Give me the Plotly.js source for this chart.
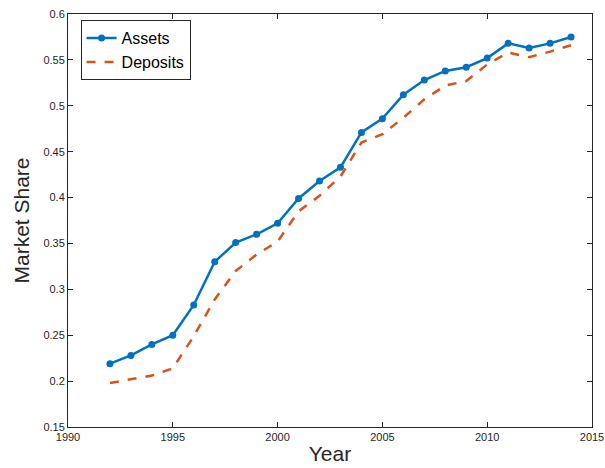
<!DOCTYPE html>
<html>
<head>
<meta charset="utf-8">
<script src="https://cdn.plot.ly/plotly-3.0.1.min.js"></script>
<style>html,body{margin:0;padding:0;background:#fff;}#chart{width:605px;height:468px;}</style>
</head>
<body>
<div id="chart"></div>
<script>
const years = [1992,1993,1994,1995,1996,1997,1998,1999,2000,2001,2002,2003,2004,2005,2006,2007,2008,2009,2010,2011,2012,2013,2014];
const assets = [0.219,0.228,0.240,0.250,0.283,0.330,0.351,0.360,0.372,0.399,0.418,0.433,0.471,0.486,0.512,0.528,0.538,0.542,0.552,0.568,0.563,0.568,0.575];
const deposits = [0.198,0.202,0.206,0.214,0.249,0.289,0.320,0.338,0.352,0.385,0.402,0.423,0.460,0.469,0.487,0.507,0.522,0.527,0.545,0.558,0.553,0.559,0.566];
const xTicks = [1990,1995,2000,2005,2010,2015];
const yTicks = [0.15,0.2,0.25,0.3,0.35,0.4,0.45,0.5,0.55,0.6];
const yTickText = ['0.15','0.2','0.25','0.3','0.35','0.4','0.45','0.5','0.55','0.6'];

const traces = [
  {x: years, y: assets, name: 'Assets', type: 'scatter', mode: 'lines+markers',
   line: {color: '#0072BD', width: 2.5}, marker: {color: '#0072BD', size: 7}},
  {x: years, y: deposits, name: 'Deposits', type: 'scatter', mode: 'lines',
   line: {color: '#D95319', width: 2.5, dash: 'dash'}}
];
const axisCommon = {
  showline: true, linecolor: '#262626', linewidth: 1, mirror: 'allticks',
  ticks: 'inside', ticklen: 5, tickcolor: '#262626', tickwidth: 1,
  showgrid: false, zeroline: false,
  tickfont: {family: 'Liberation Sans, Arial, sans-serif', size: 11, color: '#262626'}
};
const layout = {
  width: 605, height: 468,
  margin: {l: 68, r: 13, t: 14, b: 41},
  paper_bgcolor: '#fff', plot_bgcolor: '#fff',
  showlegend: true,
  legend: {x: 0.024, y: 0.985, xanchor: 'left', yanchor: 'top',
    bordercolor: '#262626', borderwidth: 1, bgcolor: '#fff',
    font: {family: 'Liberation Sans, Arial, sans-serif', size: 16, color: '#000'},
    tracegroupgap: 0, itemwidth: 30},
  xaxis: Object.assign({}, axisCommon, {
    range: [1990, 2015], tickvals: xTicks, ticktext: xTicks.map(String),
    title: {text: 'Year', font: {family: 'Liberation Sans, Arial, sans-serif', size: 21, color: '#262626'}, standoff: 4}
  }),
  yaxis: Object.assign({}, axisCommon, {
    range: [0.15, 0.6], tickvals: yTicks, ticktext: yTickText,
    title: {text: 'Market Share', font: {family: 'Liberation Sans, Arial, sans-serif', size: 21, color: '#262626'}, standoff: 8}
  })
};
Plotly.newPlot('chart', traces, layout, {displayModeBar: false, staticPlot: true});
</script>
</body>
</html>
